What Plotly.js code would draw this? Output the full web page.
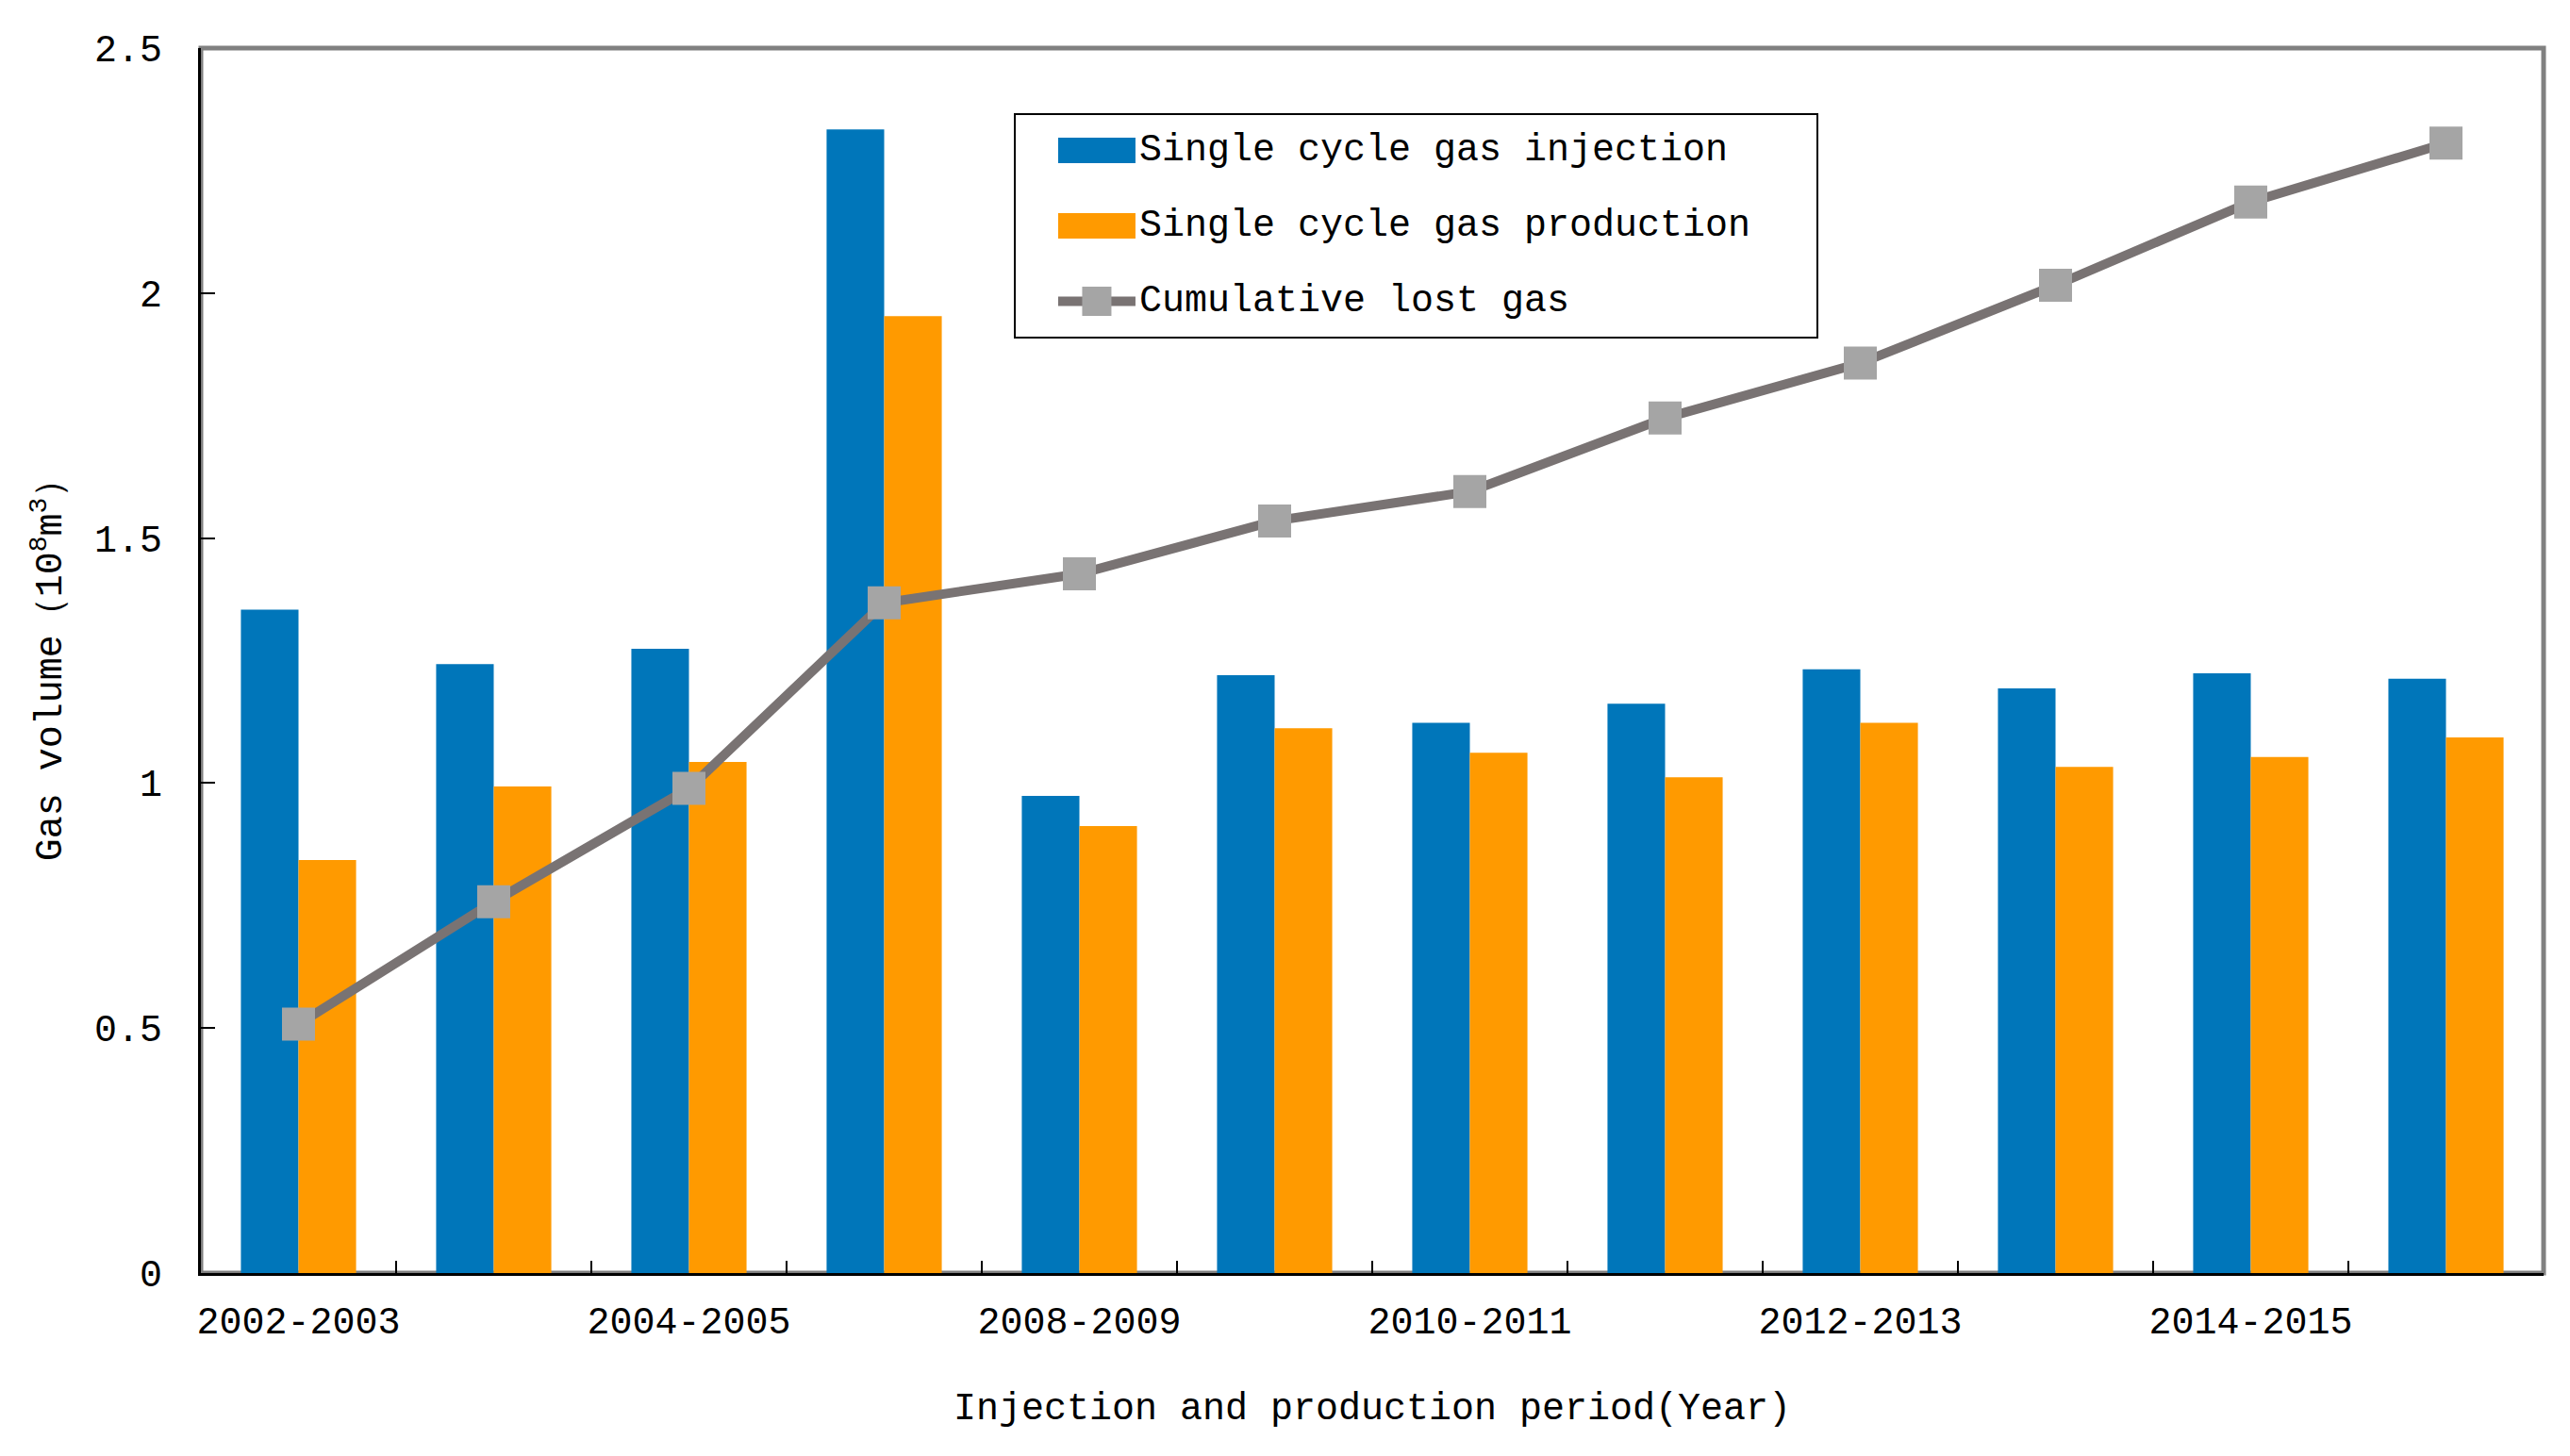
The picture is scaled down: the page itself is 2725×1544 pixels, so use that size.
<!DOCTYPE html>
<html><head><meta charset="utf-8">
<script src="https://cdn.plot.ly/plotly-3.0.1.min.js"></script>
<style>html,body{margin:0;padding:0;background:#fff}</style>
</head><body><div id="chart" style="width:2725px;height:1544px"></div>
<script>
const categories = ["2002-2003","2003-2004","2004-2005","2005-2008","2008-2009","2009-2010","2010-2011","2011-2012","2012-2013","2013-2014","2014-2015","2015-2016"];
const labeledTicks = ["2002-2003","2004-2005","2008-2009","2010-2011","2012-2013","2014-2015"];
const injection = [1.354,1.243,1.274,2.334,0.974,1.220,1.123,1.162,1.232,1.193,1.224,1.213];
const production = [0.843,0.993,1.043,1.953,0.912,1.112,1.062,1.012,1.123,1.033,1.053,1.093];
const cumulativeLost = [0.508,0.758,0.989,1.368,1.427,1.535,1.595,1.745,1.857,2.016,2.186,2.306];
const yTicks = [0,0.5,1,1.5,2,2.5];
const yTickLabels = ["0","0.5","1","1.5","2","2.5"];
const seriesNames = ["Single cycle gas injection","Single cycle gas production","Cumulative lost gas"];

const FONT = "'Liberation Mono', 'DejaVu Sans Mono', monospace";

const traces = [
  {type:'bar', name:seriesNames[0], x:categories, y:injection, marker:{color:'#0076BA'}, legendgroup:'a', hoverinfo:'none'},
  {type:'bar', name:seriesNames[1], x:categories, y:production, marker:{color:'#FF9A00'}, legendgroup:'b', hoverinfo:'none'},
  {type:'scatter', mode:'lines+markers', name:seriesNames[2], x:categories, y:cumulativeLost, xaxis:'x2', yaxis:'y',
   line:{color:'#797373', width:10}, marker:{symbol:'square', size:35, color:'#A5A5A5'}, legendgroup:'c', hoverinfo:'none'}
];

const layout = {
  width:2725, height:1544,
  margin:{l:213, r:28, t:51, b:194},
  paper_bgcolor:'#ffffff', plot_bgcolor:'#ffffff',
  font:{family:FONT, size:40, color:'#000'},
  barmode:'group', bargap:0.41, bargroupgap:0,
  showlegend:true,
  xaxis:{
    type:'category', categoryorder:'array', categoryarray:categories,
    tickmode:'array', tickvals:labeledTicks, ticktext:labeledTicks, tickangle:0,
    ticks:'', showline:true, linecolor:'#000', linewidth:3, showgrid:false, zeroline:false,
    ticklabelstandoff:13, automargin:false, range:[-0.5,11.5],
    tickfont:{family:FONT, size:40, color:'#000'},
    title:{text:'Injection and production period(Year)', font:{family:FONT, size:40, color:'#000'}, standoff:52}
  },
  xaxis2:{
    type:'category', categoryorder:'array', categoryarray:categories, overlaying:'x', side:'bottom', anchor:'y',
    tickmode:'array', tickvals:categories, tickson:'boundaries', ticks:'inside', ticklen:13, tickwidth:2, tickcolor:'#000',
    showticklabels:false, showline:false, showgrid:false, zeroline:false, range:[-0.5,11.5], automargin:false
  },
  yaxis:{
    range:[0,2.5], tickmode:'array', tickvals:yTicks, ticktext:yTickLabels,
    ticks:'inside', ticklen:15, tickwidth:2, tickcolor:'#000',
    showline:true, linecolor:'#000', linewidth:3, showgrid:false, zeroline:false,
    ticklabelstandoff:30, automargin:false,
    tickfont:{family:FONT, size:40, color:'#000'},
    title:{text:'Gas volume（10<sup>8</sup>m<sup>3</sup>）', font:{family:FONT, size:40, color:'#000'}, standoff:22}
  },
  legend:{
    x:0.347, y:0.947, xanchor:'left', yanchor:'top',
    bordercolor:'#000', borderwidth:2, bgcolor:'#fff',
    font:{family:FONT, size:40, color:'#000'},
    traceorder:'grouped', tracegroupgap:25, itemwidth:121, itemsizing:'trace'
  },
  shapes:[{type:'rect', xref:'paper', yref:'paper', x0:0, x1:1, y0:0, y1:1, line:{color:'#808080', width:5}, layer:'below'}]
};

Plotly.newPlot('chart', traces, layout, {staticPlot:true, displayModeBar:false}).then(gd => {
  const bg = gd.querySelector('.legend rect.bg');
  if (!bg) return;
  const bgBox = bg.getBoundingClientRect();
  const swLeft = bgBox.left + 46, swW = 82;
  const items = gd.querySelectorAll('.legend .traces');
  items.forEach((it, i) => {
    const txt = it.querySelector('text');
    const tb = txt ? txt.getBoundingClientRect() : null;
    const cy = tb ? tb.top + tb.height/2 : 0;
    if (i < 2) {
      it.querySelectorAll('.legendpoints path').forEach(p => {
        const d = p.getAttribute('d');
        if (!d || d === 'M0,0Z') return;
        const m = p.parentNode.getScreenCTM();
        const x0 = swLeft - m.e, y0 = cy - m.f;
        p.removeAttribute('transform');
        p.setAttribute('d', `M${x0},${y0-13.5}H${x0+swW}V${y0+13.5}H${x0}Z`);
      });
    } else {
      it.querySelectorAll('.legendlines path').forEach(p => {
        const m = p.parentNode.getScreenCTM();
        p.setAttribute('d', `M${swLeft - m.e},${cy - m.f}h${swW}`);
      });
      it.querySelectorAll('.legendsymbols path').forEach(p => {
        const m = p.parentNode.getScreenCTM();
        p.setAttribute('transform', `translate(${swLeft + swW/2 - m.e},${cy - m.f})`);
        p.setAttribute('d', 'M15.5,15.5H-15.5V-15.5H15.5Z');
      });
    }
  });
  const w = parseFloat(bg.getAttribute('width')), h = parseFloat(bg.getAttribute('height'));
  bg.setAttribute('width', w + 64);
  bg.setAttribute('height', h + 10);
});
</script>
</body></html>
